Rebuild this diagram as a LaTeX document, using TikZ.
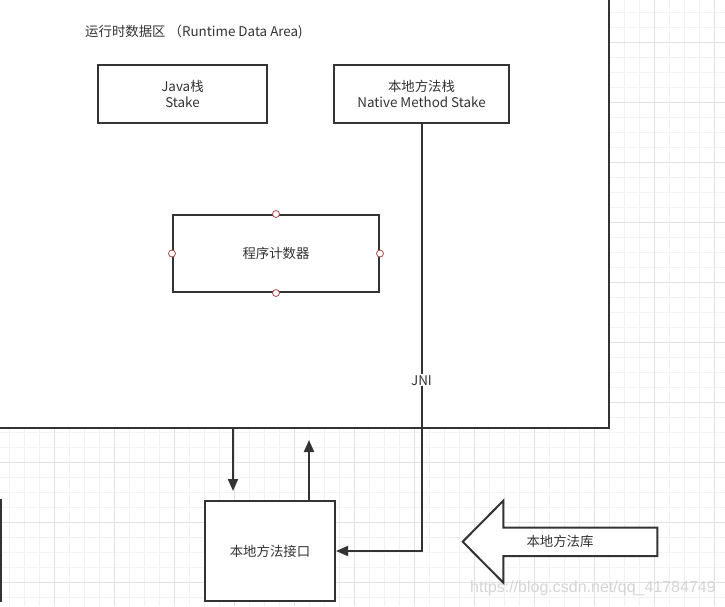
\documentclass[tikz,border=0pt]{standalone}
\usepackage{fontspec}
\setmainfont{Noto Sans CJK SC}
\newfontfamily\wmfont{Liberation Sans}
\usetikzlibrary{arrows.meta, positioning}

\definecolor{linegray}{HTML}{333333}
\definecolor{gridminor}{HTML}{F2F2F2}
\definecolor{gridmajor}{HTML}{E2E2E2}
\definecolor{portred}{HTML}{B04A4A}
\definecolor{wmgray}{HTML}{D4D4D4}

\tikzset{
    box/.style = {draw = linegray, line width = 2pt, fill = white, text = linegray,
                  align = center, inner sep = 0pt, font = \fontsize{13.4}{16}\selectfont},
    label/.style = {text = linegray, inner sep = 1pt, font = \fontsize{13.4}{16}\selectfont},
    port/.style = {circle, draw = portred, fill = white, line width = 0.8pt,
                   minimum size = 7pt, inner sep = 0pt},
    conn/.style = {draw = linegray, line width = 2pt, -{Triangle[length = 12pt, width = 10pt]}},
}

\begin{document}
\begin{tikzpicture}[x = 1pt, y = -1pt]

    % Canvas
    \useasboundingbox (0,0) rectangle (725,606);
    \clip (0,0) rectangle (725,606);

    % Grid
    \foreach \x in {9.3,24.3,...,724.3}
        \draw [gridminor, line width = 1pt] (\x,0) -- (\x,606);
    \foreach \y in {12.3,27.3,...,605}
        \draw [gridminor, line width = 1pt] (0,\y) -- (725,\y);
    \foreach \x in {54.3,114.3,...,714.3}
        \draw [gridmajor, line width = 1pt] (\x,0) -- (\x,606);
    \foreach \y in {42.3,102.3,...,582.3}
        \draw [gridmajor, line width = 1pt] (0,\y) -- (725,\y);

    % Runtime data area
    \node (rda) [box, minimum width = 619pt, minimum height = 438pt] at (299.5,209) {};
    \node (title) [label] at (194,32) {运行时数据区 （Runtime Data Area)};

    % Stacks
    \node (javastack) [box, minimum width = 169pt, minimum height = 58pt] at (182.5,94) {Java栈\\Stake};
    \node (nativestack) [box, minimum width = 175pt, minimum height = 58pt] at (421.5,94) {本地方法栈\\Native Method Stake};

    % Program counter
    \node (pc) [box, minimum width = 206pt, minimum height = 77pt] at (276,253.5) {程序计数器};
    \foreach \a in {north, south, east, west}
        \node (pc-\a) [port] at (pc.\a) {};

    % Native interface
    \node (iface) [box, minimum width = 130pt, minimum height = 100pt] at (270,551) {本地方法接口};
    \node (leftbox) [box, minimum width = 60pt, minimum height = 101pt] at (-29,550.5) {};

    % Native library
    \draw [linegray, line width = 2pt, fill = white] (462.7,541.7) -- (503.3,500.7) -- (503.3,527.7)
        -- (657.3,527.7) -- (657.3,556) -- (503.3,556) -- (503.3,582.7) -- cycle;
    \node (library) [label] at (560,541.5) {本地方法库};

    % Connectors
    \coordinate (downx) at (233,0);
    \coordinate (upx) at (309,0);
    \draw [conn, shorten >= 9pt] (rda.south -| downx) -- (iface.north -| downx);
    \draw [conn, shorten >= 11pt] (iface.north -| upx) -- (rda.south -| upx);
    \draw [conn] (nativestack.south) |- node [pos = 0.30, label, fill = white] {JNI} (iface.east);

    % Watermark
    \node (watermark) [text = wmgray, anchor = west, inner sep = 0pt,
        font = \wmfont\fontsize{16}{16}\selectfont] at (470,588) {https://blog.csdn.net/qq\_41784749};

\end{tikzpicture}
\end{document}
